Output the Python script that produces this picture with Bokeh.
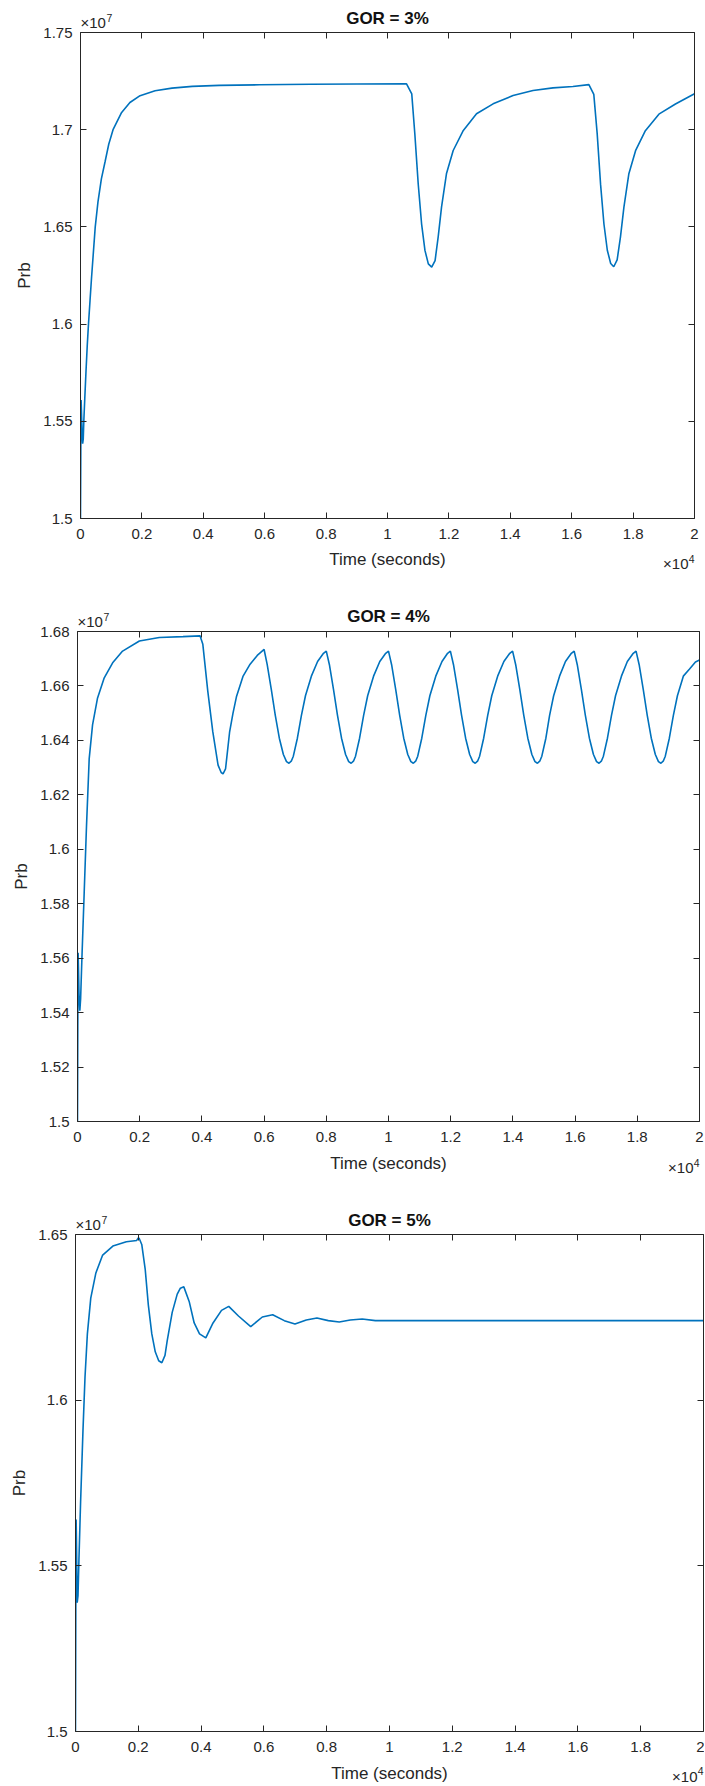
from bokeh.plotting import figure
from bokeh.layouts import column
from bokeh.models import Range1d, LinearAxis, FixedTicker, Label
from bokeh.embed import file_html
from bokeh.resources import INLINE

# ---------------- chart values (time in units of 1e4 s, Prb in units of 1e7) ----------------
titles = ["GOR = 3%", "GOR = 4%", "GOR = 5%"]
x_label = "Time (seconds)"
y_label = "Prb"
x_exponent = "4"
y_exponent = "7"

x_ticks = [0, 0.2, 0.4, 0.6, 0.8, 1.0, 1.2, 1.4, 1.6, 1.8, 2.0]
x_tick_labels = ["0", "0.2", "0.4", "0.6", "0.8", "1", "1.2", "1.4", "1.6", "1.8", "2"]

y_ticks_gor3 = [1.5, 1.55, 1.6, 1.65, 1.7, 1.75]
y_tick_labels_gor3 = ["1.5", "1.55", "1.6", "1.65", "1.7", "1.75"]
y_ticks_gor4 = [1.5, 1.52, 1.54, 1.56, 1.58, 1.6, 1.62, 1.64, 1.66, 1.68]
y_tick_labels_gor4 = ["1.5", "1.52", "1.54", "1.56", "1.58", "1.6", "1.62", "1.64", "1.66", "1.68"]
y_ticks_gor5 = [1.5, 1.55, 1.6, 1.65]
y_tick_labels_gor5 = ["1.5", "1.55", "1.6", "1.65"]

t_gor3 = [0.000, 0.001, 0.002, 0.003, 0.005, 0.007, 0.009, 0.011, 0.014, 0.018,
          0.022, 0.026, 0.031, 0.036, 0.042, 0.048, 0.057, 0.068, 0.080, 0.092,
          0.106, 0.134, 0.161, 0.194, 0.243, 0.298, 0.364, 0.452, 0.583, 0.750,
          0.900, 1.062, 1.079, 1.089, 1.100, 1.111, 1.122, 1.133, 1.144, 1.155,
          1.165, 1.176, 1.192, 1.214, 1.247, 1.290, 1.344, 1.409, 1.474, 1.539,
          1.604, 1.656, 1.672, 1.683, 1.694, 1.705, 1.716, 1.727, 1.737, 1.748,
          1.759, 1.770, 1.786, 1.808, 1.840, 1.884, 1.938, 2.000]
prb_gor3 = [1.500, 1.535, 1.561, 1.556, 1.545, 1.5385, 1.541, 1.551, 1.562, 1.576,
            1.589, 1.600, 1.612, 1.624, 1.637, 1.650, 1.663, 1.6747, 1.6835, 1.6925,
            1.700, 1.7089, 1.7140, 1.7175, 1.7200, 1.7214, 1.7223, 1.7228, 1.7231, 1.7234,
            1.7235, 1.7236, 1.7184, 1.6979, 1.6722, 1.6516, 1.6379, 1.6310, 1.6293, 1.6327,
            1.6447, 1.6602, 1.6773, 1.6893, 1.6996, 1.7082, 1.7133, 1.7176, 1.7202, 1.7215,
            1.7222, 1.7232, 1.7182, 1.6980, 1.6720, 1.6515, 1.6380, 1.6312, 1.6295, 1.6330,
            1.6450, 1.6600, 1.6772, 1.6892, 1.6995, 1.7080, 1.7132, 1.7185]

t_gor4 = [0.000, 0.001, 0.002, 0.003, 0.005, 0.0075, 0.010, 0.014, 0.0215, 0.029,
          0.0376, 0.0484, 0.0645, 0.086, 0.113, 0.145, 0.199, 0.263, 0.339, 0.394,
          0.403, 0.419, 0.435, 0.452, 0.462, 0.468, 0.476, 0.489, 0.500, 0.511,
          0.532, 0.555, 0.578,
          0.600, 0.610, 0.623, 0.636, 0.649, 0.662, 0.672, 0.680, 0.688, 0.694, 0.707, 0.720, 0.733, 0.752, 0.772, 0.791,
          0.800, 0.810, 0.823, 0.836, 0.849, 0.862, 0.872, 0.880, 0.888, 0.894, 0.907, 0.920, 0.933, 0.952, 0.972, 0.991,
          1.000, 1.010, 1.023, 1.036, 1.049, 1.062, 1.072, 1.080, 1.088, 1.094, 1.107, 1.120, 1.133, 1.152, 1.172, 1.190,
          1.199, 1.209, 1.222, 1.235, 1.248, 1.261, 1.271, 1.279, 1.287, 1.293, 1.306, 1.319, 1.332, 1.351, 1.371, 1.390,
          1.399, 1.409, 1.422, 1.435, 1.448, 1.461, 1.471, 1.479, 1.487, 1.493, 1.506, 1.518, 1.531, 1.550, 1.569, 1.588,
          1.597, 1.607, 1.620, 1.633, 1.646, 1.659, 1.669, 1.677, 1.685, 1.691, 1.704, 1.717, 1.730, 1.749, 1.768, 1.787,
          1.796, 1.806, 1.819, 1.832, 1.845, 1.858, 1.868, 1.876, 1.884, 1.890, 1.903, 1.916, 1.929, 1.948, 1.968, 1.987,
          2.000]
prb_gor4 = [1.500, 1.535, 1.562, 1.557, 1.546, 1.5407, 1.545, 1.5593, 1.584, 1.6087,
            1.6333, 1.6457, 1.6556, 1.6630, 1.6685, 1.6728, 1.6765, 1.6778, 1.6781, 1.6784,
            1.6753, 1.6580, 1.6432, 1.6309, 1.6282, 1.6277, 1.6295, 1.6430, 1.6500, 1.6560,
            1.6635, 1.6680, 1.6712,
            1.6734, 1.6678, 1.6588, 1.6492, 1.6408, 1.6348, 1.6322, 1.6316, 1.6325, 1.6342, 1.6408, 1.6492, 1.6564, 1.6636, 1.6690, 1.6720,
            1.6728, 1.6678, 1.6588, 1.6492, 1.6408, 1.6348, 1.6322, 1.6316, 1.6325, 1.6342, 1.6408, 1.6492, 1.6564, 1.6636, 1.6690, 1.6720,
            1.6728, 1.6678, 1.6588, 1.6492, 1.6408, 1.6348, 1.6322, 1.6316, 1.6325, 1.6342, 1.6408, 1.6492, 1.6564, 1.6636, 1.6690, 1.6720,
            1.6728, 1.6678, 1.6588, 1.6492, 1.6408, 1.6348, 1.6322, 1.6316, 1.6325, 1.6342, 1.6408, 1.6492, 1.6564, 1.6636, 1.6690, 1.6720,
            1.6728, 1.6678, 1.6588, 1.6492, 1.6408, 1.6348, 1.6322, 1.6316, 1.6325, 1.6342, 1.6408, 1.6492, 1.6564, 1.6636, 1.6690, 1.6720,
            1.6728, 1.6678, 1.6588, 1.6492, 1.6408, 1.6348, 1.6322, 1.6316, 1.6325, 1.6342, 1.6408, 1.6492, 1.6564, 1.6636, 1.6690, 1.6720,
            1.6728, 1.6678, 1.6588, 1.6492, 1.6408, 1.6348, 1.6322, 1.6316, 1.6325, 1.6342, 1.6408, 1.6492, 1.6564, 1.6636, 1.6662, 1.6688,
            1.6695]

t_gor5 = [0.000, 0.001, 0.002, 0.003, 0.0054, 0.008, 0.011, 0.0162, 0.0238, 0.0303,
          0.0378, 0.0486, 0.0649, 0.0865, 0.119, 0.162, 0.195, 0.200, 0.203, 0.211,
          0.222, 0.232, 0.243, 0.254, 0.265, 0.275, 0.285, 0.292, 0.308, 0.324,
          0.334, 0.345, 0.362, 0.378, 0.395, 0.415, 0.438, 0.465, 0.488, 0.519,
          0.558, 0.595, 0.628, 0.665, 0.699, 0.735, 0.769, 0.805, 0.840, 0.875,
          0.913, 0.955, 1.000, 1.200, 1.500, 1.800, 2.000]
prb_gor5 = [1.500, 1.538, 1.564, 1.558, 1.5389, 1.541, 1.552, 1.5692, 1.5908, 1.607,
            1.620, 1.6308, 1.6384, 1.6438, 1.6465, 1.6478, 1.6482, 1.6490, 1.6488, 1.6470,
            1.6395, 1.6287, 1.6200, 1.6146, 1.6119, 1.6113, 1.6135, 1.6179, 1.6265, 1.6320,
            1.6338, 1.6342, 1.6298, 1.6233, 1.6200, 1.6188, 1.6233, 1.6271, 1.6283, 1.6254,
            1.6222, 1.6251, 1.6258, 1.6240, 1.6230, 1.6242, 1.6248, 1.6240, 1.6236, 1.6242,
            1.6245, 1.6240, 1.6240, 1.6240, 1.6240, 1.6240, 1.6240]

# ---------------- styling / layout ----------------
FONT = "Liberation Sans"
AX = "#262626"
BLUE = "#0072BD"
W = 704
X0, X1 = x_ticks[0], x_ticks[-1]


def style_axis(ax, labels=True):
    ax.axis_line_color = AX
    ax.axis_line_width = 1
    ax.major_tick_line_color = AX
    ax.major_tick_line_width = 1
    ax.major_tick_in = 6
    ax.major_tick_out = 0
    ax.minor_tick_line_color = None
    ax.major_label_text_font = FONT
    ax.major_label_text_color = AX
    ax.axis_label_text_font = FONT
    ax.axis_label_text_font_size = "17px"
    ax.axis_label_text_font_style = "normal"
    ax.axis_label_text_color = AX
    if labels:
        ax.major_label_text_font_size = "15px"
    else:
        # box edge only: ticks without any tick labels
        ax.major_label_text_font_size = "1px"
        ax.major_label_text_color = None
        ax.major_label_text_alpha = 0
        ax.major_label_standoff = 0


def strip(h, bl, br, margin=None):
    """A transparent text-only band whose x scale matches the panel's x axis."""
    fw = W - bl - br
    span = X1 - X0
    s = figure(width=W, height=h,
               x_range=Range1d(X0 - bl / fw * span, X0 + (W - bl) / fw * span),
               y_range=Range1d(0, h),
               output_backend="svg", toolbar_location=None, min_border=0,
               x_axis_location=None, y_axis_location=None, frame_align=False)
    if margin is not None:
        s.margin = margin
    s.outline_line_color = None
    s.grid.visible = False
    s.background_fill_color = None
    s.border_fill_color = None
    return s


def txt(fig, x, y, text, size, align="left", bold=False, dx=0, color=AX):
    fig.add_layout(Label(x=x, y=y, text=text, text_align=align,
                         text_baseline="middle", x_offset=dx,
                         text_font=FONT, text_font_size=size,
                         text_font_style="bold" if bold else "normal",
                         text_color=color))


def make_panel(t, prb, title, yticks, ylabels, lay):
    bl, br = lay["bl"], lay["br"]

    head = strip(lay["head_h"], bl, br, margin=(0, 0, -lay["overlap"], 0))
    txt(head, 1.0, lay["title_y"], title, "17px", align="center", bold=True, color="#111111")
    txt(head, X0, lay["exp_y"], "\u00d710", "15px")
    txt(head, X0, lay["exp_y"] + 4.5, y_exponent, "10.5px", dx=26)

    p = figure(width=W, height=lay["main_h"],
               x_range=Range1d(X0, X1), y_range=Range1d(yticks[0], yticks[-1]),
               output_backend="svg", toolbar_location=None,
               min_border_left=bl, min_border_right=br,
               min_border_top=15, min_border_bottom=30,
               y_axis_label=y_label, frame_align=False)
    p.outline_line_color = None
    p.background_fill_color = "white"
    p.border_fill_color = None
    p.xgrid.visible = False
    p.ygrid.visible = False

    p.xaxis.ticker = FixedTicker(ticks=x_ticks)
    p.xaxis.major_label_overrides = dict(zip(x_ticks, x_tick_labels))
    p.yaxis.ticker = FixedTicker(ticks=yticks)
    p.yaxis.major_label_overrides = dict(zip(yticks, ylabels))
    for ax in p.xaxis:
        style_axis(ax)
        ax.major_label_standoff = 10
    for ax in p.yaxis:
        style_axis(ax)
        ax.major_label_standoff = 8
        ax.axis_label_standoff = 6

    top_ax = LinearAxis(ticker=FixedTicker(ticks=x_ticks))
    style_axis(top_ax, labels=False)
    p.add_layout(top_ax, "above")
    right_ax = LinearAxis(ticker=FixedTicker(ticks=yticks))
    style_axis(right_ax, labels=False)
    p.add_layout(right_ax, "right")

    p.line(t, prb, line_color=BLUE, line_width=1.6)

    foot = strip(lay["foot_h"], bl, br)
    fy = lay["foot_y"]
    ey = lay["foot_exp_y"]
    txt(foot, 1.0, fy, x_label, "17px", align="center")
    txt(foot, X1, ey, "\u00d710", "15px", align="right", dx=-6)
    txt(foot, X1, ey + 5, x_exponent, "10.5px", align="right", dx=0)
    return [head, p, foot]


layouts = [
    dict(bl=80, br=10, head_h=37, overlap=20, title_y=19, exp_y=15.5,
         main_h=531, foot_h=32, foot_y=21, foot_exp_y=17),
    dict(bl=77, br=5, head_h=52, overlap=16, title_y=16, exp_y=11,
         main_h=535, foot_h=29, foot_y=17, foot_exp_y=13),
    dict(bl=75, br=1, head_h=54, overlap=15, title_y=14, exp_y=10,
         main_h=542, foot_h=24, foot_y=12, foot_exp_y=9.5),
]

rows = []
rows += make_panel(t_gor3, prb_gor3, titles[0], y_ticks_gor3, y_tick_labels_gor3, layouts[0])
rows += make_panel(t_gor4, prb_gor4, titles[1], y_ticks_gor4, y_tick_labels_gor4, layouts[1])
rows += make_panel(t_gor5, prb_gor5, titles[2], y_ticks_gor5, y_tick_labels_gor5, layouts[2])

page = column(*rows, spacing=0)
open("out.html", "w").write(file_html(page, INLINE))
